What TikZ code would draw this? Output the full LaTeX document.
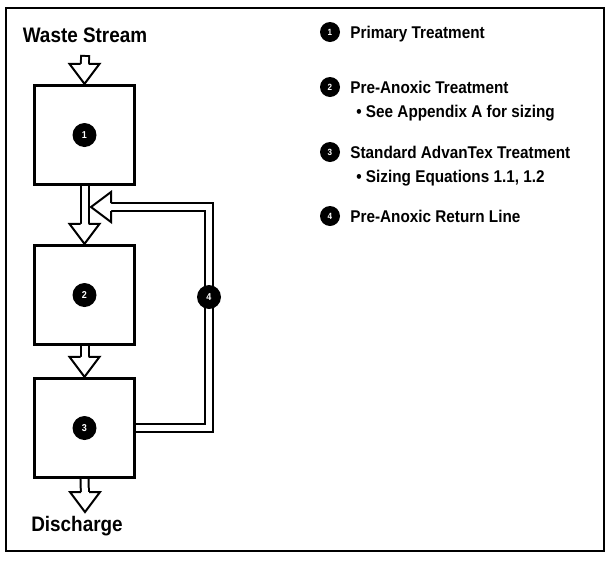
\documentclass[tikz,border=0pt]{standalone}
\usepackage{fontspec}
\setmainfont{Liberation Sans}[FakeStretch=0.9]
\usepackage{tikz}
\usetikzlibrary{positioning, calc, backgrounds}

\begin{document}
\begin{tikzpicture}[
    x=1pt, y=-1pt,
    tank/.style={rectangle, draw, fill=white, line width=3.2pt, minimum width=100pt, minimum height=99pt},
    num/.style={circle, fill=black, text=white, minimum size=24pt, inner sep=0pt, font=\bfseries\fontsize{10}{10}\selectfont},
    keynum/.style={num, minimum size=20pt, font=\bfseries\fontsize{9}{9}\selectfont},
    flowtext/.style={font=\bfseries\fontsize{21}{21}\selectfont},
    keytext/.style={anchor=west, inner sep=0pt, text height=12pt, text depth=0pt, font=\bfseries\fontsize{17}{17}\selectfont},
    pipe/.style={double=white, double distance=6pt, line width=2pt, line cap=rect},
    hollowhead/.pic={\filldraw[line width=2pt, fill=white, line join=miter] (-20,-4) -- (-20,-15) -- (0,0) -- (-20,15) -- (-20,4);}
]
\useasboundingbox (0,0) rectangle (606,563);

% Frame
\draw[line width=1.8pt] (6,8) rectangle (604,551);

% Flow
\node[flowtext] (waste) at (85,35) {Waste Stream};
\coordinate (feed) at (85,60);
\node[tank] (b1) at (84.5,135) {};
\node[tank] (b2) at (84.5,295) {};
\node[tank] (b3) at (84.5,428) {};
\coordinate (out) at (85,512);
\node[flowtext] (discharge) at (77,526) {Discharge};

\node[num] at (b1) {1};
\node[num] at (b2) {2};
\node[num] at (b3) {3};

% Return line
\coordinate (ret) at (91,207);
\node[num] (n4) at (209,297) {4};

\begin{scope}[on background layer]
\draw[pipe] (feed) -- ($(b1.north)+(0,-15)$);
\pic[rotate=-90] at (b1.north) {hollowhead};
\draw[pipe] (b1.south) -- ($(b2.north)+(0,-15)$);
\pic[rotate=-90] at (b2.north) {hollowhead};
\draw[pipe] (b2.south) -- ($(b3.north)+(0,-15)$);
\pic[rotate=-90] at (b3.north) {hollowhead};
\draw[pipe] (b3.south) -- ($(out)+(0,-15)$);
\pic[rotate=-90] at (out) {hollowhead};
\draw[pipe] (b3.east) -| ($(ret)+(118,0)$) -- ($(ret)+(15,0)$);
\pic[rotate=180] at (ret) {hollowhead};
\end{scope}

% Key
\node[keynum] (k1) at (330,32) {1};
\node[keytext, right=10pt of k1] (t1) {Primary Treatment};
\node[keynum] (k2) at (330,87) {2};
\node[keytext, right=10pt of k2] (t2) {Pre-Anoxic Treatment};
\node[keytext] (s2) at ($(t2.west)+(6,24)$) {\textbullet\ See Appendix A for sizing};
\node[keynum] (k3) at (330,152) {3};
\node[keytext, right=10pt of k3] (t3) {Standard AdvanTex Treatment};
\node[keytext] (s3) at ($(t3.west)+(6,24)$) {\textbullet\ Sizing Equations 1.1, 1.2};
\node[keynum] (k4) at (330,216) {4};
\node[keytext, right=10pt of k4] (t4) {Pre-Anoxic Return Line};

\end{tikzpicture}
\end{document}
